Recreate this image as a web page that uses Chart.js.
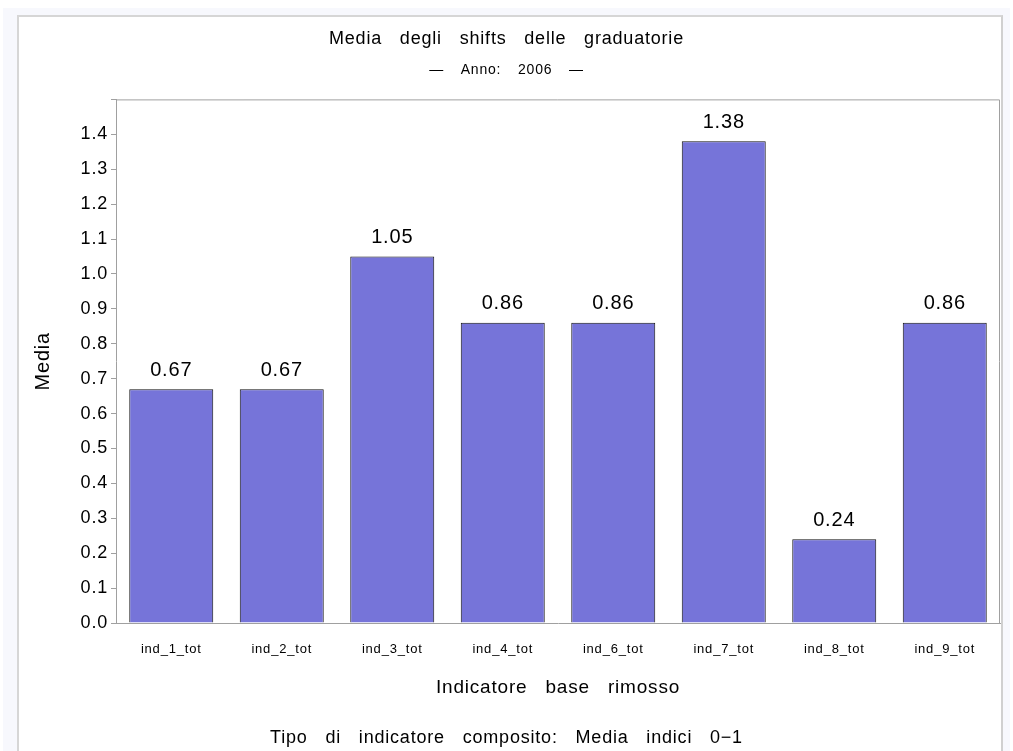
<!DOCTYPE html>
<html>
<head>
<meta charset="utf-8">
<script src="https://cdn.jsdelivr.net/npm/chart.js@4"></script>
<style>
  html, body { margin: 0; padding: 0; width: 1013px; height: 751px; overflow: hidden; background: #fff; }
  #outer { position: absolute; left: 3px; top: 8px; width: 1007px; height: 743px; background: #f7f8fd; }
  #panel { position: absolute; left: 17px; top: 15px; width: 986px; height: 736px; background: #fff;
           box-sizing: border-box; border-left: 2px solid #d6d6d6; border-top: 2px solid #d6d6d6; border-right: 2px solid #d0d0d0; }
  #c { position: absolute; left: 0; top: 0; }
</style>
</head>
<body>
<div id="outer"></div>
<div id="panel"></div>
<canvas id="c" width="1013" height="751"></canvas>
<script>
// chart data
const categories = ['ind_1_tot', 'ind_2_tot', 'ind_3_tot', 'ind_4_tot', 'ind_6_tot', 'ind_7_tot', 'ind_8_tot', 'ind_9_tot'];
const means = [0.67, 0.67, 1.05, 0.86, 0.86, 1.38, 0.24, 0.86];
const titleText = 'Media degli shifts delle graduatorie';
const subtitleText = '\u2014 Anno: 2006 \u2014';
const xTitle = 'Indicatore base rimosso';
const yTitle = 'Media';
const footnote = 'Tipo di indicatore composito: Media indici 0\u22121';

const FONT = '"Liberation Sans", Arial, sans-serif';
const AXIS_GRAY = '#a0a0a0';
Chart.defaults.font.family = FONT;
Chart.defaults.color = '#000';

// SAS output has loose letter/word spacing, mimic it on the canvas
const spacing = {
  id: 'spacing',
  beforeDraw(chart) {
    chart.ctx.letterSpacing = '0.8px';
    chart.ctx.wordSpacing = '12px';
  }
};

// top + right edges of the plot frame
const frame = {
  id: 'frame',
  afterDraw(chart) {
    const { ctx, chartArea: a } = chart;
    ctx.save();
    ctx.strokeStyle = AXIS_GRAY;
    ctx.lineWidth = 1;
    ctx.beginPath();
    ctx.moveTo(a.left, a.top + 0.5);
    ctx.lineTo(a.right - 0.5, a.top + 0.5);
    ctx.lineTo(a.right - 0.5, a.bottom);
    ctx.stroke();
    ctx.restore();
  }
};

const valueLabels = {
  id: 'valueLabels',
  afterDatasetsDraw(chart) {
    const ctx = chart.ctx;
    const meta = chart.getDatasetMeta(0);
    ctx.save();
    ctx.font = '20px ' + FONT;
    ctx.fillStyle = '#000';
    ctx.textAlign = 'center';
    ctx.textBaseline = 'middle';
    meta.data.forEach((bar, i) => {
      ctx.fillText(means[i].toFixed(2), bar.x, bar.y - 19);
    });
    ctx.restore();
  }
};

const footer = {
  id: 'footer',
  afterDraw(chart) {
    const ctx = chart.ctx;
    ctx.save();
    ctx.font = '18px ' + FONT;
    ctx.fillStyle = '#000';
    ctx.textAlign = 'center';
    ctx.textBaseline = 'middle';
    ctx.fillText(footnote, chart.width / 2, 738);
    ctx.restore();
  }
};

new Chart(document.getElementById('c'), {
  type: 'bar',
  data: {
    labels: categories,
    datasets: [{
      data: means,
      backgroundColor: '#7674d9',
      borderColor: '#111',
      borderWidth: 1,
      barPercentage: 0.76,
      categoryPercentage: 1.0
    }]
  },
  options: {
    responsive: false,
    animation: false,
    layout: { padding: { left: 13, right: 13, top: 0, bottom: 0 } },
    plugins: {
      legend: { display: false },
      tooltip: { enabled: false },
      title: {
        display: true, text: titleText, color: '#000',
        font: { size: 18, weight: 'normal' },
        padding: { top: 28, bottom: 12 }
      },
      subtitle: {
        display: true, text: subtitleText, color: '#000',
        font: { size: 14 },
        padding: { top: 0, bottom: 21 }
      }
    },
    scales: {
      x: {
        grid: { display: false, drawTicks: false },
        border: { display: true, color: AXIS_GRAY },
        ticks: { font: { size: 13 }, padding: 19, autoSkip: false, maxRotation: 0, minRotation: 0 },
        title: { display: true, text: xTitle, font: { size: 19 }, padding: { top: 0, bottom: 52 } },
        afterFit(scale) { scale.height = 128; }
      },
      y: {
        min: 0,
        max: 1.5,
        grid: { drawOnChartArea: false, drawTicks: true, tickLength: 5, color: AXIS_GRAY },
        border: { display: true, color: AXIS_GRAY },
        ticks: {
          stepSize: 0.1,
          font: { size: 18 },
          padding: 3,
          callback: v => v > 1.45 ? '' : v.toFixed(1)
        },
        title: { display: true, text: yTitle, font: { size: 20 }, padding: { top: 18, bottom: 0 } },
        afterFit(scale) { scale.width = 103; }
      }
    }
  },
  plugins: [spacing, frame, valueLabels, footer]
});
</script>
</body>
</html>
